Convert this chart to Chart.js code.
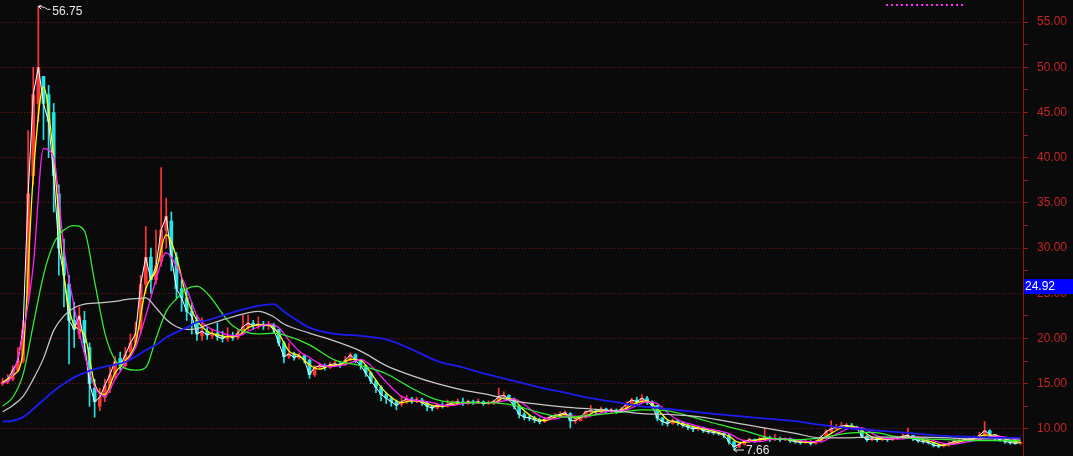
<!DOCTYPE html>
<html>
<head>
<meta charset="utf-8">
<title>K线</title>
<script src="https://cdn.jsdelivr.net/npm/chart.js@4.4.1/dist/chart.umd.min.js"></script>
<style>
html, body { margin: 0; padding: 0; background: #0a0a0a; overflow: hidden; }
#kline { display: block; background: #0a0a0a; }
</style>
</head>
<body>
<canvas id="kline" width="1073" height="456"></canvas>
<script>
// свечи (по индексу)
const opens = [
  15.0, 15.2, 15.5, 16.5, 17.5, 25, 38, 46, 49, 47,
  45, 36, 29, 26, 22, 20.5, 22, 19, 14.5, 12.5,
  13.5, 14.5, 16, 17.8, 17, 18.5, 19.5, 21, 26, 29,
  26.5, 28.5, 32, 33, 29, 25.5, 24.5, 23, 22, 20.3,
  20.8, 20.3, 20.6, 20.2, 20.0, 20.3, 20.1, 20.6, 21.3, 21.7,
  21.4, 21.6, 21.4, 21.5, 21.0, 19.5, 18.0, 18.3, 17.9, 18.1,
  17.6, 16.0, 16.8, 17.0, 16.8, 17.1, 17.2, 17.1, 17.6, 18.2,
  17.6, 17.0, 16.2, 15.3, 14.6, 13.8, 13.4, 13.0, 12.7, 13.0,
  13.3, 13.1, 13.2, 12.9, 12.5, 12.3, 12.6, 12.5, 12.7, 12.9,
  13.0, 12.8, 13.0, 12.9, 13.0, 12.8, 12.9, 13.0, 13.6, 13.7,
  13.3, 12.5, 11.6, 11.3, 11.2, 11.0, 10.8, 11.1, 11.3, 11.5,
  11.6, 11.7, 10.9, 10.9, 11.3, 11.9, 12.0, 11.9, 12.2, 11.9,
  12.1, 11.9, 12.2, 12.8, 13.2, 13.0, 13.4, 13.0, 12.6, 11.2,
  10.8, 10.6, 10.9, 10.7, 10.4, 10.2, 10.0, 10.1, 9.8, 9.7,
  9.6, 9.5, 9.3, 8.6, 8.0, 8.3, 8.6, 8.8, 8.7, 8.9,
  9.0, 8.8, 8.9, 8.8, 8.9, 8.7, 8.6, 8.5, 8.6, 8.4,
  8.6, 9.1, 9.7, 10.0, 10.2, 10.3, 10.4, 10.2, 10.0, 9.2,
  8.8, 8.9, 8.8, 8.9, 8.8, 8.9, 9.0, 9.2, 9.3, 8.9,
  8.7, 8.6, 8.5, 8.2, 8.1, 8.2, 8.4, 8.6, 8.7, 8.8,
  8.9, 8.9, 9.3, 9.8, 9.4, 9.0, 8.8, 8.6, 8.5, 8.4
];
const closes = [
  15.2, 15.5, 16.5, 17.5, 21, 36, 47, 50, 46, 44,
  38, 30, 27, 22, 21, 22.5, 19.5, 15, 13, 13.5,
  14.8, 16, 17.5, 17, 18.2, 19.5, 20.5, 26, 29, 26.5,
  28, 32, 33.5, 29, 25.5, 24.5, 23, 22.5, 20.5, 20.8,
  20.4, 20.6, 20.2, 20.0, 20.3, 20.1, 20.6, 21.3, 21.7, 21.4,
  21.6, 21.4, 21.5, 21.0, 19.5, 18.0, 18.3, 17.9, 18.1, 17.6,
  16.0, 16.8, 17.0, 16.8, 17.1, 17.2, 17.0, 17.6, 18.2, 17.6,
  17.0, 16.2, 15.3, 14.6, 13.8, 13.4, 13.0, 12.6, 13.0, 13.3,
  13.1, 13.2, 12.9, 12.5, 12.3, 12.6, 12.5, 12.7, 12.9, 13.0,
  12.8, 13.0, 12.9, 13.0, 12.8, 12.9, 13.0, 13.6, 13.7, 13.3,
  12.5, 11.6, 11.3, 11.2, 11.0, 10.8, 11.1, 11.3, 11.5, 11.6,
  11.8, 10.9, 10.9, 11.3, 11.9, 12.0, 11.9, 12.2, 11.9, 12.1,
  11.9, 12.2, 12.8, 13.2, 13.0, 13.4, 13.0, 12.6, 11.2, 10.8,
  10.6, 10.9, 10.7, 10.4, 10.2, 10.0, 10.1, 9.8, 9.7, 9.6,
  9.5, 9.3, 8.6, 8.0, 8.3, 8.6, 8.8, 8.7, 8.9, 9.0,
  8.8, 8.9, 8.8, 8.9, 8.7, 8.6, 8.5, 8.6, 8.4, 8.6,
  9.1, 9.7, 10.0, 10.2, 10.3, 10.4, 10.2, 10.1, 9.2, 8.8,
  8.9, 8.8, 8.9, 8.8, 8.9, 9.0, 9.2, 9.3, 8.9, 8.7,
  8.6, 8.5, 8.2, 8.1, 8.2, 8.4, 8.6, 8.7, 8.8, 8.9,
  8.9, 9.3, 9.8, 9.4, 9.0, 8.8, 8.6, 8.5, 8.4, 8.5
];
const highs = [
  15.6, 16.0, 17.0, 19.0, 22, 43, 50, 56.75, 49, 48,
  46, 37, 31, 27, 24, 23.5, 23, 19.5, 15.5, 14.5,
  15.5, 16.8, 18, 18.5, 19, 20.5, 21.8, 27, 32.4, 30,
  32, 38.9, 35.5, 34, 29.5, 26.5, 25.5, 24, 22.5, 22.3,
  21.2, 21.0, 21.7, 20.8, 21.2, 20.7, 21.0, 22.6, 22.6, 22.0,
  22.4, 21.9, 21.9, 21.7, 21.0, 19.7, 19.5, 18.5, 18.4, 18.2,
  17.7, 17.0, 17.3, 17.2, 17.4, 17.5, 17.4, 18.0, 18.4, 18.3,
  17.7, 17.1, 16.3, 15.4, 14.8, 14.0, 13.6, 13.2, 13.6, 13.7,
  13.5, 13.5, 13.4, 13.0, 12.6, 12.8, 12.9, 13.2, 13.1, 13.3,
  13.4, 13.2, 13.2, 13.3, 13.1, 13.1, 13.2, 14.5, 14.1, 13.8,
  13.4, 12.6, 11.8, 11.5, 11.4, 11.2, 11.3, 11.5, 11.7, 11.9,
  12.0, 11.8, 11.2, 11.5, 12.0, 12.6, 12.2, 12.4, 12.3, 12.3,
  12.2, 12.4, 13.0, 13.4, 13.5, 13.8, 13.6, 13.1, 12.6, 11.3,
  11.0, 11.1, 11.0, 10.8, 10.5, 10.3, 10.3, 10.2, 9.9, 9.9,
  9.7, 9.6, 9.4, 8.7, 8.5, 8.8, 9.0, 8.9, 9.1, 10.1,
  9.2, 9.4, 9.1, 9.0, 9.0, 8.8, 8.7, 8.8, 8.7, 8.8,
  9.3, 9.9, 10.9, 10.5, 10.7, 10.6, 10.6, 10.3, 10.0, 9.3,
  9.1, 9.0, 9.1, 9.0, 9.1, 9.2, 9.5, 10.1, 9.3, 9.0,
  8.8, 8.7, 8.5, 8.3, 8.4, 8.6, 8.8, 8.9, 9.0, 9.1,
  9.2, 9.6, 10.8, 9.9, 9.4, 9.0, 8.9, 8.7, 8.6, 8.6
];
const lows = [
  14.8, 15.0, 15.3, 16.3, 17.3, 24, 37, 44, 42, 40,
  34, 27, 23.5, 17.2, 19, 20, 18.5, 12.5, 11.3, 12,
  13, 14, 15.5, 16.5, 16.8, 18, 19, 20.5, 25, 25,
  26, 28, 30, 27.5, 24.5, 23, 22, 20.5, 19.8, 19.8,
  19.9, 20.0, 19.8, 19.6, 19.7, 19.8, 19.9, 20.4, 21.0, 21.0,
  21.1, 21.0, 21.0, 20.6, 19.2, 17.3, 17.8, 17.6, 17.7, 17.3,
  15.6, 15.8, 16.6, 16.5, 16.7, 16.9, 16.8, 17.0, 17.5, 17.3,
  16.6, 15.8, 15.0, 14.0, 13.1, 12.8, 12.5, 12.1, 12.5, 12.8,
  12.8, 12.9, 12.6, 12.0, 12.0, 12.2, 12.3, 12.4, 12.6, 12.7,
  12.6, 12.7, 12.7, 12.8, 12.6, 12.7, 12.7, 12.9, 13.3, 13.1,
  12.2, 11.2, 11.0, 10.9, 10.7, 10.55, 10.7, 11.0, 11.2, 11.3,
  11.5, 10.1, 10.6, 11.0, 11.2, 11.7, 11.6, 11.8, 11.7, 11.8,
  11.7, 11.8, 12.1, 12.7, 12.8, 12.9, 12.7, 12.3, 10.9, 10.4,
  10.3, 10.5, 10.4, 10.2, 9.9, 9.7, 9.8, 9.6, 9.5, 9.4,
  9.3, 9.0, 8.3, 7.66, 7.9, 8.2, 8.5, 8.5, 8.6, 8.8,
  8.6, 8.7, 8.6, 8.7, 8.5, 8.4, 8.3, 8.4, 8.2, 8.3,
  8.5, 9.0, 9.6, 9.9, 10.0, 10.1, 10.0, 9.9, 9.0, 8.6,
  8.7, 8.6, 8.7, 8.6, 8.7, 8.8, 8.9, 9.0, 8.7, 8.5,
  8.4, 8.3, 8.0, 7.9, 8.0, 8.1, 8.3, 8.5, 8.6, 8.7,
  8.7, 8.8, 9.2, 9.1, 8.8, 8.6, 8.4, 8.3, 8.3, 8.3
];

// быстрые средние (жёлтая, фиолетовая) — через каждые 2 свечи
const fastIdx = Array.from({ length: 100 }, (_, k) => k * 2).concat([199]);
const maYellow = [
  15.1, 15.9, 18.5, 38, 47.8, 40, 27, 21.5, 20.5, 15.0,
  13.8, 16.2, 17.5, 19.5, 25.5, 27.5, 31.5, 29, 24.5, 22,
  20.8, 20.4, 20.2, 20.3, 21.2, 21.5, 21.5, 20.5, 18.6, 18.1,
  17.1, 16.6, 17.0, 17.1, 17.7, 17.6, 16.2, 14.6, 13.5, 12.9,
  13.1, 13.0, 12.6, 12.5, 12.7, 12.9, 12.9, 12.9, 12.9, 13.4,
  13.2, 12.0, 11.2, 10.9, 11.3, 11.6, 11.2, 11.4, 11.9, 12.0,
  12.0, 12.3, 12.9, 13.1, 12.2, 11.0, 10.7, 10.4, 10.1, 9.9,
  9.6, 9.2, 8.5, 8.6, 8.8, 8.9, 8.9, 8.8, 8.6, 8.5,
  8.8, 9.5, 10.1, 10.3, 9.8, 9.1, 8.9, 8.9, 9.1, 9.1,
  8.8, 8.5, 8.2, 8.4, 8.7, 8.9, 9.3, 9.3, 8.9, 8.6,
  8.5
];
const maMagenta = [
  15.0, 16.0, 20.5, 28, 41, 40, 30, 23.5, 18.3, 14.7,
  13.6, 15.5, 17.2, 19, 22.5, 26.5, 29.5, 28, 25.5, 22.5,
  21.3, 20.8, 20.4, 20.3, 20.8, 21.3, 21.6, 21.2, 19.8, 18.6,
  17.9, 17.2, 16.9, 17.0, 17.3, 17.7, 17.0, 15.8, 14.6, 13.6,
  13.2, 13.1, 12.9, 12.6, 12.6, 12.8, 12.9, 12.9, 12.9, 13.1,
  13.3, 12.7, 11.8, 11.2, 11.1, 11.4, 11.4, 11.3, 11.6, 11.9,
  12.0, 12.1, 12.6, 13.0, 12.8, 11.8, 11.0, 10.6, 10.3, 10.0,
  9.8, 9.5, 8.9, 8.6, 8.6, 8.8, 8.9, 8.9, 8.7, 8.6,
  8.6, 9.1, 9.7, 10.1, 10.1, 9.5, 9.0, 8.9, 8.9, 9.1,
  9.0, 8.7, 8.4, 8.3, 8.5, 8.7, 9.0, 9.2, 9.1, 8.8,
  8.7
];

// медленные средние (зелёная, серая, синяя)
const slowIdx = [
  0, 2, 4, 6, 8, 10, 12, 14, 16, 18, 20, 22, 24, 26, 28, 30, 32, 34, 36, 38,
  40, 45, 50, 53, 55, 60, 65, 70, 75, 80, 85, 90, 95, 100, 105, 110, 115, 120,
  125, 130, 135, 140, 145, 150, 155, 160, 165, 170, 175, 180, 185, 190, 195, 199
];
const maGreen = [
  12.5, 13.5, 16.0, 21.5, 27, 30.5, 32.0, 32.5, 31.9, 26.3, 20.6, 17.6, 16.7, 16.5, 16.8, 20, 23.0, 24.4, 25.5, 25.8,
  25.0, 21.4, 20.5, 20.6, 20.4, 19.3, 17.6, 17.0, 16.1, 14.5, 13.2, 12.9, 12.9, 12.6, 11.8, 11.3, 11.5, 11.8,
  12.1, 12.0, 11.3, 10.5, 9.8, 9.0, 8.8, 9.0, 9.5, 9.6, 9.1, 8.9, 8.8, 8.7, 8.7, 8.7
];
const maGray = [
  11.9, 12.6, 13.6, 15.5, 17.8, 20.9, 22.5, 23.4, 23.8, 23.9, 24.0, 24.1, 24.3, 24.4, 24.5, 23.4, 22.1, 21.3, 21.0, 21.1,
  21.5, 22.4, 23.0, 22.4, 21.6, 20.6, 19.7, 18.6, 17.0, 15.9, 15.0, 14.3, 13.8, 13.1, 12.7, 12.4, 12.2, 12.0,
  11.7, 11.6, 11.4, 11.0, 10.5, 10.0, 9.5, 9.0, 9.0, 9.1, 9.1, 9.1, 9.0, 8.9, 8.9, 8.9
];
const maBlue = [
  10.8, 10.9, 11.3, 12.2, 13.2, 14.2, 15.0, 15.7, 16.2, 16.6, 16.9, 17.1, 17.4, 18.0, 18.7, 19.3, 20.1, 20.7, 21.2, 21.8,
  22.0, 22.9, 23.6, 23.8, 23.0, 21.2, 20.5, 20.3, 19.9, 18.8, 17.5, 16.8, 16.0, 15.3, 14.6, 14.0, 13.4, 12.95,
  12.5, 12.2, 11.9, 11.6, 11.35, 11.1, 10.85, 10.45, 10.1, 9.85, 9.65, 9.4, 9.2, 9.1, 9.0, 9.0
];

const priceTag = 24.92; // синяя метка на оси
const UP = '#ff3434';
const DOWN = '#22e6e6';

const pts = (xs, ys) => xs.map((x, i) => ({ x, y: ys[i] })); // точки для линий
const candleColor = (ctx) => closes[ctx.dataIndex] >= opens[ctx.dataIndex] ? UP : DOWN;
const isMajor = (v) => Math.abs(v / 5 - Math.round(v / 5)) < 1e-6; // подписи через 5

const maLine = (data, color, width = 1.25) => ({ // настройки линии средней
  type: 'line',
  data,
  borderColor: color,
  borderWidth: width,
  pointRadius: 0,
  cubicInterpolationMode: 'monotone',
  order: 1,
});

const markersPlugin = { // подписи максимума/минимума и метка цены
  id: 'markers',
  afterDatasetsDraw(chart) {
    const { ctx, scales: { x, y } } = chart;
    const hi = Math.max(...highs);
    const lo = Math.min(...lows);
    const hx = x.getPixelForValue(highs.indexOf(hi));
    const hy = y.getPixelForValue(hi);
    const lx = x.getPixelForValue(lows.indexOf(lo));
    const ly = y.getPixelForValue(lo);
    ctx.save();
    ctx.strokeStyle = '#e6e6e6';
    ctx.fillStyle = '#e6e6e6';
    ctx.lineWidth = 1;
    ctx.font = '12px "Liberation Sans", Arial, sans-serif';
    ctx.textBaseline = 'middle';
    ctx.beginPath(); // стрелка к максимуму
    ctx.moveTo(hx + 3, hy + 3); ctx.lineTo(hx, hy); ctx.lineTo(hx + 3, hy - 1);
    ctx.moveTo(hx, hy); ctx.lineTo(hx + 6, hy + 1); ctx.lineTo(hx + 9, hy + 3); ctx.lineTo(hx + 12, hy + 3);
    ctx.stroke();
    ctx.fillText(hi.toFixed(2), hx + 14, hy + 5);
    ctx.beginPath(); // стрелка к минимуму
    ctx.moveTo(lx + 3, ly - 3); ctx.lineTo(lx, ly); ctx.lineTo(lx + 3, ly + 2);
    ctx.moveTo(lx, ly); ctx.lineTo(lx + 10, ly);
    ctx.stroke();
    ctx.fillText(lo.toFixed(2), lx + 12, ly + 1);
    ctx.restore();
  },
  afterDraw(chart) {
    const { ctx, chartArea, scales: { y } } = chart;
    const py = Math.round(y.getPixelForValue(priceTag));
    ctx.save();
    ctx.fillStyle = '#0000ff';
    ctx.fillRect(chartArea.right + 1, py - 15, chart.width - chartArea.right - 1, 15);
    ctx.fillStyle = '#ffffff';
    ctx.font = '12px "Liberation Sans", Arial, sans-serif';
    ctx.textBaseline = 'middle';
    ctx.fillText(priceTag.toFixed(2), chartArea.right + 2, py - 7);
    // пунктир индикатора вверху справа
    ctx.strokeStyle = '#ff2cff';
    ctx.lineWidth = 2;
    ctx.setLineDash([2, 3]);
    ctx.beginPath();
    ctx.moveTo(chartArea.right - 137, 5); ctx.lineTo(chartArea.right - 58, 5);
    ctx.stroke();
    ctx.restore();
  },
};

new Chart(document.getElementById('kline'), {
  type: 'bar',
  data: {
    datasets: [
      maLine(pts(slowIdx, maBlue), '#1c1cf0', 1.8),
      maLine(pts(slowIdx, maGray), '#c8c8c8'),
      maLine(pts(slowIdx, maGreen), '#33ee33'),
      maLine(pts(fastIdx, maMagenta), '#ff22ff'),
      maLine(pts(fastIdx, maYellow), '#ffff00'),
      { ...maLine(closes.map((c, i) => ({ x: i, y: c })), '#ffffff', 1), cubicInterpolationMode: 'default', tension: 0 },
      {
        type: 'bar', // тени
        data: lows.map((l, i) => ({ x: i, y: [l, highs[i]] })),
        backgroundColor: candleColor,
        barThickness: 1,
        grouped: false,
        order: 5,
      },
      {
        type: 'bar', // тела свечей
        data: opens.map((o, i) => ({ x: i, y: [o, closes[i]] })),
        backgroundColor: candleColor,
        barThickness: 3,
        minBarLength: 1,
        grouped: false,
        order: 4,
      },
    ],
  },
  options: {
    responsive: false,
    animation: false,
    layout: { padding: 0 },
    plugins: { legend: { display: false }, tooltip: { enabled: false } },
    scales: {
      x: { type: 'linear', min: -0.5, max: 199.5, display: false, offset: false },
      y: {
        position: 'right',
        min: 7.0,
        max: 57.45,
        afterBuildTicks: (s) => { s.ticks = s.ticks.filter(t => Math.abs(t.value / 2.5 - Math.round(t.value / 2.5)) < 1e-6); },
        afterFit: (s) => { s.width = 50; s.paddingTop = 0; s.paddingBottom = 0; }, // ось на x=1023, без отступов сверху/снизу
        ticks: {
          stepSize: 2.5,
          autoSkip: false,
          padding: 9,
          color: '#c42424',
          font: { family: '"Liberation Sans", Arial, sans-serif', size: 12 },
          callback: (v) => isMajor(v) ? Number(v).toFixed(2) : '',
        },
        grid: {
          color: (c) => c.tick && isMajor(c.tick.value) ? '#7a1616' : 'rgba(0,0,0,0)',
          tickColor: '#8e1a1a',
          tickLength: 5,
          lineWidth: 1,
        },
        border: { color: '#8e1a1a', dash: [1, 2] },
      },
    },
  },
  plugins: [markersPlugin],
});
</script>
</body>
</html>
